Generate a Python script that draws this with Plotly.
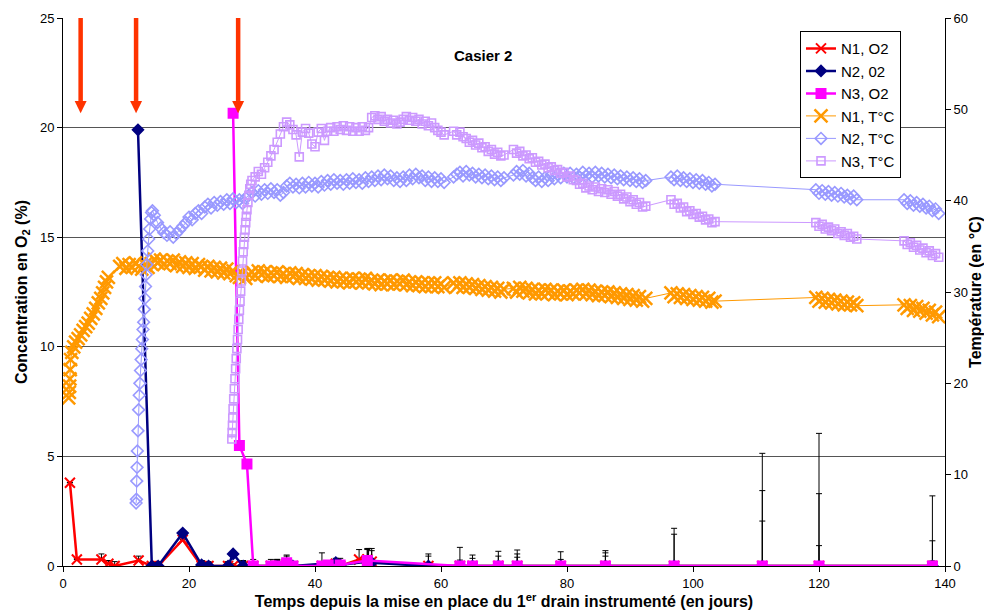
import plotly.graph_objects as go

# ---------------- O2 concentration data (%) ----------------
n1_o2_days = [1.1, 2.2, 6.1, 7.2, 8.2, 12.0, 14.1, 15.1, 19.0, 22.0, 23.1, 26.2, 27.0, 28.6, 30.2, 33.0, 34.0,
              35.5, 36.5, 41.1, 42.1, 43.3, 44.0, 47.0, 48.3, 49.0, 58.0, 63.0, 65.0, 69.1, 72.1, 79.0, 86.1,
              97.0, 111.0, 120.0, 138.0]
n1_o2_vals = [3.8, 0.3, 0.3, 0.1, 0.0, 0.25, 0.0, 0.0, 1.2, 0.0, 0.0, 0.0, 0.0, 0.0, 0.0, 0.0, 0.0,
              0.1, 0.0, 0.0, 0.0, 0.1, 0.0, 0.3, 0.3, 0.2, 0.0, 0.0, 0.0, 0.0, 0.0, 0.0, 0.0,
              0.0, 0.0, 0.0, 0.0]
n1_o2_err = [0.0, 0.05, 0.25, 0.15, 0.2, 0.2, 0.1, 0.2, 0.2, 0.25, 0.2, 0.2, 0.1, 0.25, 0.3, 0.3, 0.3,
             0.35, 0.2, 0.6, 0.1, 0.2, 0.2, 0.45, 0.45, 0.5, 0.55, 0.85, 0.5, 0.67, 0.73, 0.65, 0.7,
             1.72, 5.14, 6.05, 3.2]

n2_o2_days = [11.9, 14.1, 15.1, 19.0, 22.0, 23.1, 26.2, 27.0, 28.6, 30.2, 34.0, 36.5, 43.3, 44.0, 48.5, 49.0,
              58.0, 63.0, 65.0, 69.1, 72.1, 79.0, 86.1, 97.0, 111.0, 120.0, 138.0]
n2_o2_vals = [19.9, 0.0, 0.0, 1.5, 0.05, 0.0, 0.0, 0.55, 0.0, 0.0, 0.0, 0.0, 0.15, 0.05, 0.2, 0.15,
              0.0, 0.0, 0.0, 0.0, 0.0, 0.0, 0.0, 0.0, 0.0, 0.0, 0.0]
n2_o2_err = [0.0, 0.15, 0.15, 0.1, 0.2, 0.15, 0.15, 0.1, 0.2, 0.2, 0.25, 0.2, 0.2, 0.3, 0.6, 0.65,
             0.45, 0.27, 0.35, 0.45, 0.55, 0.3, 0.6, 1.45, 3.44, 3.3, 1.15]

n3_o2_days = [27.0, 28.0, 29.2, 30.2, 33.0, 34.0, 35.5, 36.5, 41.1, 42.1, 44.0, 48.3, 63.0, 65.0, 69.1, 72.1,
              79.0, 86.1, 97.0, 111.0, 120.0, 138.0]
n3_o2_vals = [20.65, 5.5, 4.65, 0.0, 0.0, 0.0, 0.15, 0.0, 0.0, 0.05, 0.05, 0.25, 0.0, 0.0, 0.0, 0.0,
              0.0, 0.0, 0.0, 0.0, 0.0, 0.0]
n3_o2_err = [0.0, 0.0, 0.0, 0.15, 0.2, 0.3, 0.35, 0.1, 0.1, 0.2, 0.2, 0.55, 0.1, 0.1, 0.2, 0.4,
             0.1, 0.45, 0.1, 2.05, 0.93, 0.23]

# ---------------- Temperature data (°C) ----------------
# initial ramps (explicit days)
n1_t_ramp_days = [0.9, 1.0, 1.05, 1.1, 1.15, 1.2, 1.4, 1.7, 2.0, 2.4, 2.8, 3.2, 3.6, 4.0, 4.4, 4.8, 5.2, 5.6,
                  6.0, 6.3, 6.6, 6.9, 7.2]
n1_t_ramp_vals = [18.4, 19.0, 19.7, 20.5, 21.5, 22.6, 23.4, 24.0, 24.5, 24.9, 25.3, 25.8, 26.2, 26.6, 27.1,
                  27.6, 28.2, 28.8, 29.3, 29.9, 30.5, 31.1, 31.6]
n2_t_ramp_days = [11.6, 11.65, 11.7, 11.75, 11.8, 11.9, 12.0, 12.1, 12.2, 12.3, 12.4, 12.5, 12.6, 12.7, 12.8,
                  12.9, 13.0, 13.1, 13.2, 13.3, 13.45, 13.6, 13.75, 13.9, 14.05, 14.2]
n2_t_ramp_vals = [6.9, 7.3, 9.3, 10.8, 12.6, 14.8, 17.1, 18.7, 20.0, 21.4, 22.6, 23.8, 24.8, 25.9, 26.7,
                  28.1, 29.3, 30.6, 31.9, 33.0, 34.5, 35.8, 36.9, 38.0, 38.7, 38.9]
n3_t_ramp_days = [26.8, 26.85, 26.9, 26.95, 27.0, 27.1, 27.2, 27.3, 27.4, 27.5, 27.6, 27.7, 27.8, 27.9, 28.0,
                  28.1, 28.2, 28.3, 28.4, 28.5, 28.6, 28.7, 28.8, 28.9, 29.0, 29.1, 29.2, 29.35, 29.5, 29.65,
                  29.8, 30.0]
n3_t_ramp_vals = [13.9, 14.6, 15.4, 16.2, 17.2, 18.3, 19.4, 20.5, 21.6, 22.7, 23.8, 24.8, 25.9, 27.0, 28.0,
                  29.0, 30.1, 31.2, 32.3, 33.4, 34.4, 35.2, 36.0, 36.8, 37.6, 38.3, 39.0, 39.8, 40.6, 41.3,
                  41.8, 42.2]

# logged segments: (first day, sampling step in days, readings)
n1_t_segments = [
    (9.0, 0.5, [32.8, 33.1, 32.6, 33.0, 32.7, 33.2, 32.8, 32.5, 33.0, 32.7, 33.1, 33.6, 33.2, 33.5, 33.0, 33.4,
                33.1, 33.5, 32.9, 33.3, 32.8, 33.2, 32.7, 33.1, 32.6, 33.0, 32.8, 32.4, 32.8, 32.3, 32.7, 32.2,
                32.6, 32.1, 32.5, 32.0, 32.3, 31.8, 31.6, 32.0, 31.5, 31.9, 32.2, 31.8, 32.3, 31.9, 32.2, 31.7,
                32.1, 31.8, 32.2, 31.7, 32.0, 31.6, 32.1, 31.7, 32.0, 31.5, 31.9, 31.5, 31.8, 31.4, 31.8, 31.3,
                31.7, 31.3, 31.6, 31.2, 31.6, 31.1, 31.5, 31.1, 31.4, 31.0, 31.5, 31.1, 31.4, 31.0, 31.5, 31.0,
                31.3, 30.9, 31.3, 30.8, 31.2, 30.9, 31.3, 30.8, 31.2, 30.9, 31.3, 30.8, 31.1, 30.7, 31.1, 30.7,
                31.0, 30.6, 31.0, 30.6, 31.0, 30.6, 30.9, 30.5]),
    (62.0, 0.5, [31.0, 30.6, 31.0, 30.5, 30.9, 30.5, 30.8, 30.4, 30.7, 30.3, 30.6, 30.2, 30.5, 30.1, 30.4,
                 30.0, 30.3]),
    (71.5, 0.5, [30.4, 30.0, 30.5, 30.1, 30.4, 29.9, 30.3, 29.8, 30.2, 29.8, 30.3, 29.9, 30.2, 29.7, 30.1,
                 29.8, 30.2, 29.7, 30.1, 29.8, 30.2, 29.9, 30.3, 29.8, 30.2, 29.7, 30.1, 29.6, 30.0, 29.6,
                 30.0, 29.5, 29.9, 29.4, 29.8, 29.3, 29.7, 29.2, 29.6, 29.1, 29.5, 29.0, 29.3]),
    (96.5, 0.5, [29.9, 29.5, 29.8, 29.4, 29.7, 29.3, 29.6, 29.2, 29.5, 29.1, 29.4, 29.0, 29.3, 28.9, 29.0]),
    (119.5, 0.5, [29.4, 29.0, 29.3, 28.9, 29.2, 28.8, 29.1, 28.7, 29.0, 28.6, 28.9, 28.6, 28.8, 28.5]),
    (133.5, 0.5, [28.6, 28.2, 28.5, 28.0, 28.4, 27.9, 28.2, 27.7, 28.0, 27.5, 27.8, 27.3]),
]
n2_t_segments = [
    (14.5, 0.5, [38.4, 37.6, 37.0, 36.5, 36.2, 36.6, 36.0, 36.4, 36.8, 37.2, 37.6, 38.2, 37.9, 38.6, 38.9,
                 38.6, 39.3, 39.6, 39.2, 39.8, 39.5, 39.9, 39.6, 40.1, 39.7, 40.2, 39.8, 40.1, 39.7, 40.3,
                 40.6, 40.9, 40.5, 41.1, 40.7, 41.2, 40.8, 41.3, 40.9, 41.2, 40.6, 40.9, 41.6, 41.9, 41.5,
                 41.8, 41.4, 41.9, 41.5, 42.0, 41.6, 41.9, 41.5, 42.1, 41.7, 42.2, 41.8, 42.3, 41.9, 42.2,
                 41.8, 42.3, 41.9, 42.4, 42.0, 42.3, 41.9, 42.5, 42.1, 42.6, 42.2, 42.7, 42.3, 42.8, 42.4,
                 42.7, 42.2, 42.5, 42.1, 42.6, 42.2, 42.8, 42.4, 42.9, 42.5, 42.7, 42.2, 42.6, 42.1, 42.5,
                 42.1, 42.4, 42.0]),
    (62.0, 0.5, [42.6, 42.9, 43.1, 42.7, 43.2, 42.8, 43.0, 42.6, 42.9, 42.5, 42.8, 42.4, 42.7, 42.3, 42.6,
                 42.2, 42.5]),
    (71.5, 0.5, [42.8, 43.2, 42.9, 43.3, 42.7, 43.0, 42.5, 42.2, 42.6, 42.1, 42.5, 42.2, 42.8, 42.4, 42.9,
                 42.5, 43.0, 42.6, 43.0, 42.5, 42.9, 42.6, 43.1, 42.7, 43.0, 42.6, 43.1, 42.7, 43.0, 42.6,
                 42.9, 42.5, 42.8, 42.4, 42.7, 42.3, 42.6, 42.2, 42.5, 42.1, 42.4, 42.0, 42.2]),
    (96.5, 0.5, [42.6, 42.3, 42.7, 42.2, 42.5, 42.1, 42.4, 42.0, 42.3, 41.9, 42.2, 41.8, 42.0, 41.6, 41.8]),
    (119.5, 0.5, [41.2, 40.8, 41.1, 40.7, 41.0, 40.6, 40.9, 40.5, 40.8, 40.4, 40.6, 40.2, 40.5, 40.1]),
    (133.5, 0.5, [40.1, 39.7, 40.0, 39.5, 39.8, 39.4, 39.6, 39.2, 39.4, 38.9, 39.1, 38.6]),
]
n3_t_segments = [
    (30.5, 0.5, [42.6, 43.2, 42.9, 43.6, 44.2, 44.9, 45.6, 46.4, 47.3, 48.1, 48.6, 48.3, 47.8, 47.2, 44.8,
                 47.5, 47.9, 47.4, 46.2, 45.9, 47.5, 47.9, 46.6, 47.6, 48.0, 47.6, 48.1, 47.8, 48.2, 47.7,
                 48.1, 47.6, 48.0, 47.6, 48.1, 47.7, 48.0, 49.1, 49.3, 48.9, 49.2, 48.7, 48.9, 48.5, 48.8,
                 48.4, 48.6, 48.9, 49.2, 48.8, 49.1, 48.7, 48.9, 48.4, 48.7, 48.2, 48.5, 48.0, 47.7, 47.5,
                 47.2]),
    (62.0, 0.5, [47.6, 47.2, 47.5, 47.0, 46.8, 46.4, 46.6, 46.1, 46.3, 45.8, 45.9, 45.4, 45.6, 45.1, 45.3,
                 44.9, 45.0]),
    (71.5, 0.5, [45.6, 45.2, 45.4, 44.9, 45.0, 44.6, 44.7, 44.2, 44.3, 43.9, 44.0, 43.6, 43.7, 43.3, 43.4,
                 43.0, 43.1, 42.6, 42.7, 42.3, 42.2, 41.8, 41.9, 41.4, 41.6, 41.2, 41.5, 41.0, 41.3, 40.9,
                 41.2, 40.7, 41.0, 40.5, 40.7, 40.2, 40.4, 39.9, 40.1, 39.6, 39.8, 39.3, 39.4]),
    (96.5, 0.5, [40.1, 39.6, 39.7, 39.2, 39.3, 38.8, 38.9, 38.5, 38.6, 38.2, 38.3, 37.9, 38.0, 37.6, 37.7]),
    (119.5, 0.5, [37.6, 37.2, 37.4, 36.9, 37.1, 36.7, 36.9, 36.4, 36.6, 36.2, 36.4, 36.0, 36.1, 35.8]),
    (133.5, 0.5, [35.6, 35.2, 35.4, 34.9, 35.1, 34.6, 34.8, 34.3, 34.5, 34.0, 34.2, 33.8]),
]

# days at which the drains were put in place (arrows), arrow span on the O2 axis
arrow_days = [2.8, 11.6, 27.8]
arrow_top = 25.0
arrow_tip = 20.65

x_ticks = [0, 20, 40, 60, 80, 100, 120, 140]


def assemble(ramp_days, ramp_vals, segments):
    xs, ys = list(ramp_days), list(ramp_vals)
    for start, step, vals in segments:
        xs += [start + step * i for i in range(len(vals))]
        ys += vals
    return xs, ys


FONT = "Liberation Sans, Arial, sans-serif"
fig = go.Figure()

# temperature traces (drawn first, beneath O2)
temp_specs = [
    ("N1, T°C", n1_t_ramp_days, n1_t_ramp_vals, n1_t_segments, "#FF9900", "x-thin-open", 13, 2.5, 4),
    ("N2, T°C", n2_t_ramp_days, n2_t_ramp_vals, n2_t_segments, "#9999FF", "diamond-open", 9, 1.6, 5),
    ("N3, T°C", n3_t_ramp_days, n3_t_ramp_vals, n3_t_segments, "#CC99FF", "square-open", 8, 1.6, 6),
]
for name, rd, rv, segs, col, sym, size, lw, rank in temp_specs:
    xs, ys = assemble(rd, rv, segs)
    fig.add_trace(go.Scatter(
        x=xs, y=ys, name=name, yaxis="y2", mode="lines+markers",
        line=dict(color=col, width=1),
        marker=dict(symbol=sym, size=size, color=col, line=dict(color=col, width=lw)),
        legendrank=rank,
    ))

o2_specs = [
    ("N1, O2", n1_o2_days, n1_o2_vals, n1_o2_err, "#FF0000", "x-thin-open", 10, 1),
    ("N2, 02", n2_o2_days, n2_o2_vals, n2_o2_err, "#000080", "diamond", 8, 2),
    ("N3, O2", n3_o2_days, n3_o2_vals, n3_o2_err, "#FF00FF", "square", 9, 3),
]
for name, d, v, e, col, sym, size, rank in o2_specs:
    fig.add_trace(go.Scatter(
        x=d, y=v, name=name, yaxis="y", mode="lines+markers",
        line=dict(color=col, width=2.5),
        marker=dict(symbol=sym, size=size, color=col, line=dict(color=col, width=2)),
        error_y=dict(type="data", array=e, arrayminus=[0] * len(e), symmetric=False,
                     color="black", thickness=1, width=3),
        legendrank=rank,
    ))

# arrows marking drain installation: shaft + head
head_len = (arrow_top - arrow_tip) * 0.13
head_half = 0.95
for ad in arrow_days:
    fig.add_shape(type="line", xref="x", yref="y", x0=ad, x1=ad, y0=arrow_top, y1=arrow_tip + head_len,
                  line=dict(color="#FF3300", width=4.5))
    fig.add_shape(type="path", xref="x", yref="y",
                  path=f"M {ad - head_half},{arrow_tip + head_len} L {ad + head_half},{arrow_tip + head_len} "
                       f"L {ad},{arrow_tip} Z",
                  fillcolor="#FF3300", line=dict(color="#FF3300", width=0))

fig.add_annotation(x=0.476, y=0.951, xref="paper", yref="paper", text="<b>Casier 2</b>",
                   showarrow=False, font=dict(family=FONT, size=15, color="black"))

fig.update_layout(
    width=984, height=612,
    margin=dict(l=63, r=39, t=18, b=46),
    paper_bgcolor="white", plot_bgcolor="white",
    font=dict(family=FONT, size=13, color="black"),
    showlegend=True,
    legend=dict(x=0.8356, y=0.976, xanchor="left", yanchor="top", bordercolor="black", borderwidth=1,
                bgcolor="white", font=dict(family=FONT, size=15), traceorder="normal",
                tracegroupgap=0, itemwidth=30),
    xaxis=dict(range=[0, 140], tickvals=x_ticks, showgrid=False, zeroline=False,
               showline=True, linecolor="black", linewidth=1, ticks="outside", ticklen=5,
               tickcolor="black", automargin=False,
               title=dict(text="<b>Temps depuis la mise en place du 1<sup>er</sup> drain instrumenté (en jours)</b>",
                          font=dict(family=FONT, size=16), standoff=2)),
    yaxis=dict(range=[0, 25], dtick=5, showgrid=True, gridcolor="#555555", gridwidth=1, zeroline=False,
               showline=True, linecolor="black", linewidth=1, ticks="outside", ticklen=5,
               tickcolor="black", automargin=False,
               title=dict(text="<b>Concentration en O<sub>2</sub> (%)</b>", font=dict(family=FONT, size=16),
                          standoff=8)),
    yaxis2=dict(range=[0, 60], dtick=10, overlaying="y", side="right", showgrid=False, zeroline=False,
                showline=True, linecolor="black", linewidth=1, ticks="outside", ticklen=5,
                tickcolor="black", automargin=False,
                title=dict(text="<b>Température (en °C)</b>", font=dict(family=FONT, size=16), standoff=6)),
)

fig.write_html("out.html", config={"displayModeBar": False},
               post_script="document.body.style.margin='0';document.body.style.overflow='hidden';")
